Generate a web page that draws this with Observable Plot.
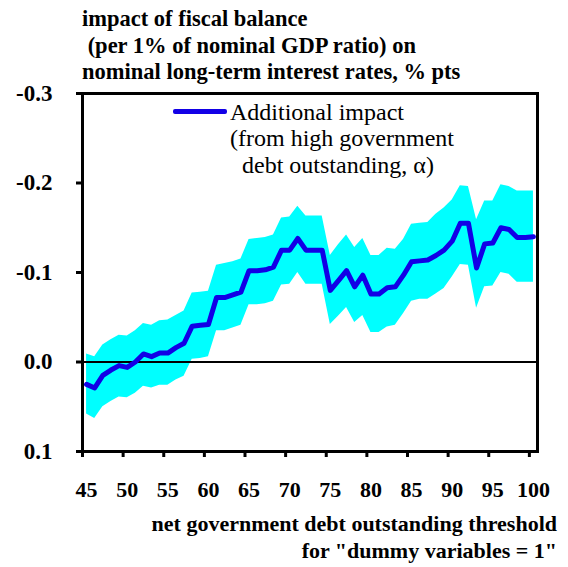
<!DOCTYPE html>
<html>
<head>
<meta charset="utf-8">
<script src="https://cdn.jsdelivr.net/npm/d3@7"></script>
<script src="https://cdn.jsdelivr.net/npm/@observablehq/plot@0.6"></script>
<style>
  body { margin: 0; background: #fff; }
  #wrap { position: relative; width: 568px; height: 567px; }
  #wrap svg { position: absolute; left: 0; top: 0; }
  .txt { position: absolute; white-space: pre; color: #000; }
</style>
</head>
<body>
<div id="wrap"></div>
<script>
const serif = '"Liberation Serif", "Times New Roman", serif';

// threshold of net government debt (% of GDP)
const thresholds = [45, 46, 47, 48, 49, 50, 51, 52, 53, 54, 55, 56, 57, 58, 59, 60, 61, 62, 63, 64,
  65, 66, 67, 68, 69, 70, 71, 72, 73, 74, 75, 76, 77, 78, 79, 80, 81, 82, 83, 84,
  85, 86, 87, 88, 89, 90, 91, 92, 93, 94, 95, 96, 97, 98, 99, 100];

// additional impact alpha (point estimate)
const alpha = [0.025, 0.029, 0.015, 0.009, 0.004, 0.006, 0.000, -0.009, -0.006, -0.010,
  -0.010, -0.016, -0.021, -0.040, -0.041, -0.042, -0.072, -0.072, -0.075, -0.078,
  -0.102, -0.102, -0.103, -0.106, -0.125, -0.125, -0.138, -0.125, -0.125, -0.125,
  -0.080, -0.091, -0.102, -0.084, -0.097, -0.076, -0.076, -0.083, -0.084, -0.097,
  -0.112, -0.113, -0.114, -0.119, -0.125, -0.135, -0.155, -0.155, -0.105, -0.132,
  -0.133, -0.150, -0.148, -0.139, -0.139, -0.140];

// band edges
const bandHigh = [-0.009, -0.006, -0.019, -0.025, -0.030, -0.029, -0.035, -0.043, -0.041, -0.046,
  -0.047, -0.052, -0.057, -0.077, -0.078, -0.079, -0.108, -0.110, -0.112, -0.115,
  -0.137, -0.138, -0.139, -0.142, -0.161, -0.162, -0.174, -0.163, -0.163, -0.163,
  -0.119, -0.131, -0.142, -0.128, -0.138, -0.119, -0.119, -0.127, -0.126, -0.137,
  -0.154, -0.155, -0.156, -0.165, -0.172, -0.181, -0.197, -0.196, -0.159, -0.180,
  -0.180, -0.198, -0.196, -0.191, -0.191, -0.191];

const bandLow = [0.058, 0.063, 0.050, 0.044, 0.039, 0.040, 0.035, 0.027, 0.029, 0.026,
  0.026, 0.020, 0.016, -0.003, -0.004, -0.006, -0.035, -0.035, -0.038, -0.041,
  -0.064, -0.064, -0.065, -0.068, -0.086, -0.087, -0.100, -0.087, -0.087, -0.087,
  -0.042, -0.051, -0.061, -0.044, -0.052, -0.033, -0.033, -0.039, -0.041, -0.054,
  -0.068, -0.070, -0.070, -0.076, -0.082, -0.095, -0.109, -0.108, -0.060, -0.084,
  -0.085, -0.100, -0.098, -0.089, -0.089, -0.089];

const yTicks = [-0.3, -0.2, -0.1, 0, 0.1];
const xLabels = [45, 50, 55, 60, 65, 70, 75, 80, 85, 90, 95, 100];
const xTickMarks = [44.5, 49.5, 54.5, 59.5, 64.5, 69.5, 74.5, 79.5, 84.5, 89.5, 94.5, 99.5];

const data = thresholds.map((t, i) => ({t, v: alpha[i], hi: bandHigh[i], lo: bandLow[i]}));

const chart = Plot.plot({
  width: 568,
  height: 567,
  marginLeft: 82,
  marginRight: 31,
  marginTop: 93,
  marginBottom: 116,
  style: {fontFamily: serif, color: "#000", background: "#fff"},
  x: {domain: [44.5, 100.5]},
  y: {domain: [-0.3, 0.1], reverse: true},
  marks: [
    Plot.areaY(data, {x: "t", y1: "lo", y2: "hi", fill: "#00ffff", curve: "linear"}),
    Plot.ruleY([0], {stroke: "#000", strokeWidth: 2}),
    Plot.lineY(data, {x: "t", y: "v", stroke: "#1200e6", strokeWidth: 5}),
    Plot.frame({stroke: "#000", strokeWidth: 3}),
    Plot.axisY(yTicks, {
      label: null, tickSize: 6, tickPadding: 24, strokeWidth: 3,
      tickFormat: d => d.toFixed(1), fontSize: 23, fontWeight: "bold", fontFamily: serif
    }),
    Plot.axisX(xTickMarks, {label: null, tickSize: 6, strokeWidth: 3, tickFormat: () => ""}),
    Plot.axisX(xLabels, {label: null, tickSize: 0, tickPadding: 30, fontSize: 22, fontWeight: "bold", fontFamily: serif})
  ]
});

const wrap = d3.select('#wrap');
wrap.append(() => chart);

// titulo del eje y
wrap.append('div').attr('class', 'txt')
  .style('font-family', serif).style('font-weight', 'bold').style('font-size', '22.5px')
  .style('left', '82px').style('top', '6px').style('line-height', '26.7px')
  .text("impact of fiscal balance\n (per 1% of nominal GDP ratio) on\nnominal long-term interest rates, % pts");

// titulo del eje x
wrap.append('div').attr('class', 'txt')
  .style('font-family', serif).style('font-weight', 'bold').style('font-size', '22px')
  .style('right', '11px').style('top', '510px').style('line-height', '27px').style('text-align', 'right')
  .text("net government debt outstanding threshold\nfor \"dummy variables = 1\"");

// leyenda
wrap.append('div')
  .style('position', 'absolute').style('left', '173px').style('top', '108.5px')
  .style('width', '54px').style('height', '5px').style('background', '#1200e6').style('border-radius', '2px');
wrap.append('div').attr('class', 'txt')
  .style('font-family', serif).style('font-size', '24px')
  .style('left', '230px').style('top', '98.5px').style('line-height', '26.5px')
  .text("Additional impact\n(from high government\n  debt outstanding, \u03b1)");
</script>
</body>
</html>
